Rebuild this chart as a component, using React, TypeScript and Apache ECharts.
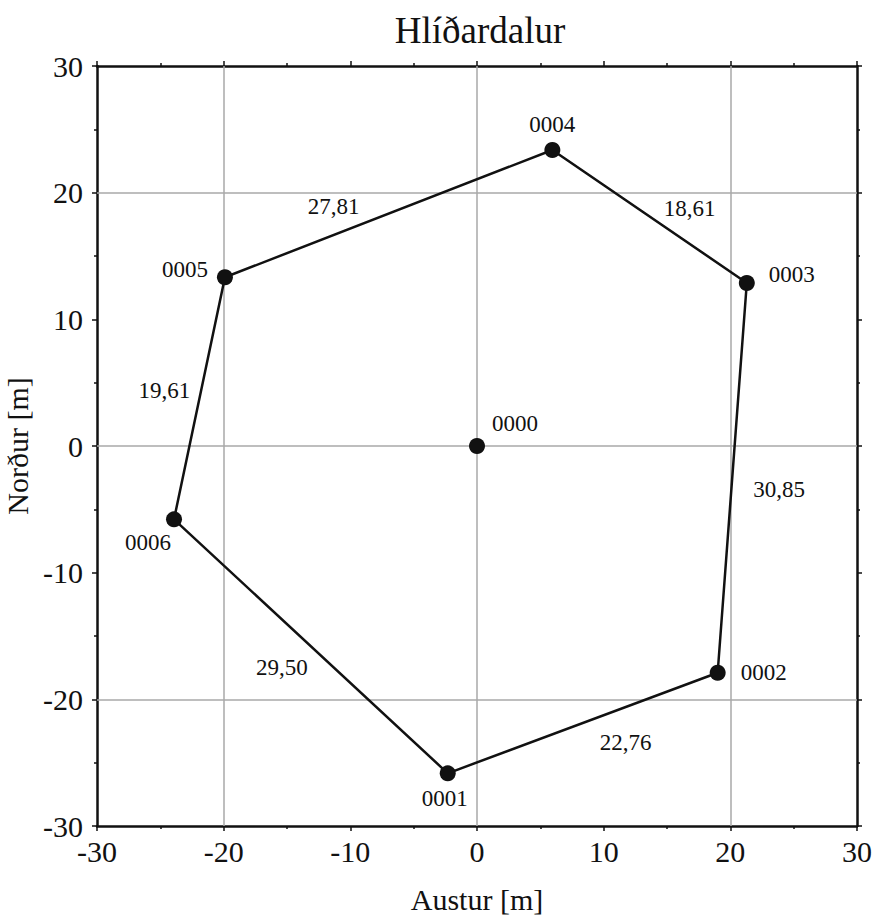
import React, { useEffect, useRef } from "react";
import * as echarts from "echarts";

// ---- data ----
const stationNames = ["0000", "0001", "0002", "0003", "0004", "0005", "0006"];
const eastValues = [0, -2.31, 19.0, 21.3, 5.95, -19.9, -23.92];
const northValues = [0, -25.84, -17.9, 12.87, 23.37, 13.32, -5.79];
const traverseOrder = ["0001", "0002", "0003", "0004", "0005", "0006", "0001"];
const segmentLengths = ["22,76", "30,85", "18,61", "27,81", "19,61", "29,50"];
const axisMin = -30;
const axisMax = 30;
const axisStep = 10;
const gridLineValues = [-20, 0, 20];
const titleText = "Hlíðardalur";
const xName = "Austur [m]";
const yName = "Norður [m]";

// ---- label placement (pixels, relative to point / segment midpoint) ----
const stationLabelOffsets: Record<string, [number, number]> = {
  "0000": [38, -23],
  "0001": [-3, 25],
  "0002": [46, 0],
  "0003": [45, -8],
  "0004": [0, -25],
  "0005": [-40, -8],
  "0006": [-26, 23],
};
const segmentLabelOffsets: [number, number][] = [
  [43, 19],
  [47, 12],
  [40, -8],
  [-55, -7],
  [-35, -8],
  [-29, 21],
];

const FONT = "'Liberation Serif', 'Times New Roman', serif";
const INK = "#111111";

export default function App() {
  const ref = useRef<HTMLDivElement>(null);

  useEffect(() => {
    if (!ref.current) return;
    const chart = echarts.init(ref.current, undefined, { renderer: "svg" });

    const pt = (name: string): [number, number] => {
      const i = stationNames.indexOf(name);
      return [eastValues[i], northValues[i]];
    };

    const ringData = traverseOrder.map((n) => pt(n));

    const stationData = stationNames.map((n, i) => ({
      value: [eastValues[i], northValues[i]],
      name: n,
      label: { offset: stationLabelOffsets[n] },
    }));

    const segmentData = segmentLengths.map((len, i) => {
      const a = pt(traverseOrder[i]);
      const b = pt(traverseOrder[i + 1]);
      return {
        value: [(a[0] + b[0]) / 2, (a[1] + b[1]) / 2],
        name: len,
        label: { offset: segmentLabelOffsets[i] },
      };
    });

    const gridLines = [
      ...gridLineValues.map((v) => ({ xAxis: v })),
      ...gridLineValues.map((v) => ({ yAxis: v })),
    ];

    const baseAxis = {
      type: "value" as const,
      min: axisMin,
      max: axisMax,
      interval: axisStep,
      axisLine: { show: true, onZero: false, lineStyle: { color: INK, width: 2.5 } },
      axisTick: { show: true, inside: false, length: 5, lineStyle: { color: INK, width: 1.5 } },
      minorTick: { show: true, splitNumber: 2, length: 3, lineStyle: { color: INK, width: 1.5 } },
      splitLine: { show: false },
    };

    const tickLabel = (margin: number) => ({
      margin,
      fontFamily: FONT,
      fontSize: 30,
      color: INK,
    });

    const labelText = {
      fontFamily: FONT,
      fontSize: 23,
      color: INK,
      align: "center",
      verticalAlign: "middle",
      textBorderWidth: 0,
      textBorderColor: "transparent",
    };

    chart.setOption({
      animation: false,
      backgroundColor: "#ffffff",
      textStyle: { fontFamily: FONT, color: INK },
      title: {
        text: titleText,
        left: 475,
        top: 7,
        textAlign: "center",
        textStyle: { fontFamily: FONT, fontSize: 37, fontWeight: "normal", color: INK },
      },
      grid: {
        left: 97,
        top: 66,
        width: 760,
        height: 760,
        containLabel: false,
        outerBoundsMode: "none",
      },
      xAxis: [
        {
          ...baseAxis,
          position: "bottom",
          name: xName,
          nameLocation: "middle",
          nameGap: 58,
          nameTextStyle: { fontFamily: FONT, fontSize: 30, color: INK },
          axisLabel: tickLabel(10),
        },
        {
          ...baseAxis,
          position: "top",
          axisLabel: { show: false },
        },
      ],
      yAxis: [
        {
          ...baseAxis,
          position: "left",
          name: yName,
          nameLocation: "middle",
          nameGap: 45,
          nameTextStyle: { fontFamily: FONT, fontSize: 30, color: INK },
          axisLabel: tickLabel(14),
        },
        {
          ...baseAxis,
          position: "right",
          axisLabel: { show: false },
        },
      ],
      series: [
        {
          type: "line",
          data: [],
          symbol: "none",
          z: 1,
          markLine: {
            silent: true,
            z: 1,
            symbol: ["none", "none"],
            label: { show: false },
            lineStyle: { color: "#a9a9a9", width: 1.5, type: "solid" },
            data: gridLines,
          },
        },
        {
          type: "line",
          data: ringData,
          symbol: "none",
          lineStyle: { color: INK, width: 2.5 },
          z: 3,
        },
        {
          type: "scatter",
          data: stationData,
          symbolSize: 16,
          itemStyle: { color: INK, opacity: 1 },
          z: 10,
          label: {
            show: true,
            position: "inside",
            formatter: (p: any) => p.name,
            ...labelText,
          },
        },
        {
          type: "scatter",
          data: segmentData,
          symbolSize: 1,
          itemStyle: { color: "rgba(0,0,0,0)", opacity: 1 },
          z: 10,
          label: {
            show: true,
            position: "inside",
            formatter: (p: any) => p.name,
            ...labelText,
          },
        },
      ],
    });

    return () => chart.dispose();
  }, []);

  return (
    <div
      ref={ref}
      style={{ position: "absolute", left: 0, top: 0, width: 872, height: 920 }}
    />
  );
}
